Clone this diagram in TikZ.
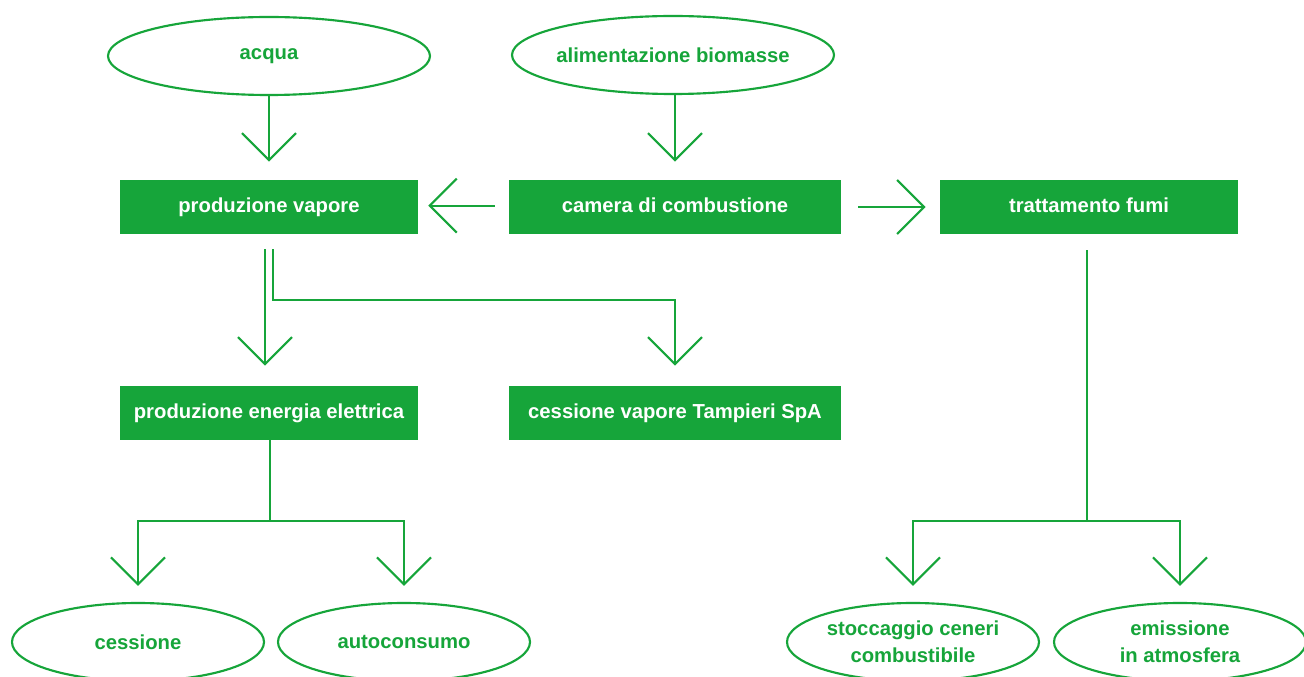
\documentclass[tikz,border=0pt]{standalone}
\usepackage{fontspec}
\setmainfont{Liberation Sans}
\usetikzlibrary{arrows.meta,shapes.geometric,calc}
\definecolor{gr}{RGB}{22,165,58}
\begin{document}
\begin{tikzpicture}[x=0.75pt,y=-0.75pt,
  txt/.style={font=\fontsize{15.2}{20.5}\selectfont\bfseries},
  box/.style={txt,rectangle,fill=gr,text=white,minimum width=223.5pt,minimum height=40.5pt,inner sep=0pt,text height=10pt,text depth=1pt},
  ell/.style={txt,ellipse,draw=gr,line width=1.6pt,text=gr,minimum width=241.5pt,minimum height=58.5pt,inner sep=0pt,align=center},
  sell/.style={ell,minimum width=189pt},
  ln/.style={draw=gr,line width=1.6pt},
  arr/.style={ln,-{Straight Barb[length=20.25pt,width=40.5pt,line cap=butt]}}]
\path[use as bounding box,clip] (0,0) rectangle (1304,677);
\fill[white] (0,0) rectangle (1304,677);
% ellipses top
\node[ell] (acqua) at (269,56) {acqua};
\node[ell] (bio) at (673,55) {\makebox[0pt]{alimentazione biomasse}};
% boxes
\node[box] (pv) at (269,207) {produzione vapore};
\node[box,minimum width=249pt] (cam) at (675,207) {camera di combustione};
\node[box] (tf) at (1089,207) {trattamento fumi};
\node[box] (ee) at (269,413) {produzione energia elettrica};
\node[box,minimum width=249pt] (cv) at (675,413) {cessione vapore Tampieri SpA};
% bottom ellipses
\node[sell] (ces) at (138,642) {cessione};
\node[sell] (auto) at (404,642) {autoconsumo};
\node[sell] (sto) at (913,642) {stoccaggio ceneri\\combustibile};
\node[sell] (emi) at (1180,642) {emissione\\in atmosfera};
% junctions
\coordinate (j1) at (675,300);
\coordinate (j2) at (270,521);
\coordinate (j3) at (1087,521);
% connectors
\draw[arr,shorten >=13.5pt] (acqua.south) -- (pv.north);
\draw[arr,shorten >=13.5pt] (bio.south -| cam.north) -- (cam.north);
\draw[arr,shorten <=10.5pt,shorten >=7.5pt] ([yshift=1pt]cam.west) -- ([yshift=1pt]pv.east);
\draw[arr,shorten <=12.75pt,shorten >=10.5pt] (cam.east) -- (tf.west);
\draw[arr,shorten <=11.25pt,shorten >=15pt] ([xshift=-3pt]pv.south) -- ([xshift=-3pt]ee.north);
\draw[arr,shorten <=11.25pt,shorten >=15pt] ([xshift=3pt]pv.south) |- (j1) -- (cv.north);
\draw[ln] (ee.south -| j2) -- (j2);
\draw[arr,shorten >=12pt] (j2) -| (ces.north);
\draw[arr,shorten >=12pt] (j2) -| (auto.north);
\draw[ln,shorten <=12pt] (tf.south -| j3) -- (j3);
\draw[arr,shorten >=12pt] (j3) -| (sto.north);
\draw[arr,shorten >=12pt] (j3) -| (emi.north);
\end{tikzpicture}
\end{document}
